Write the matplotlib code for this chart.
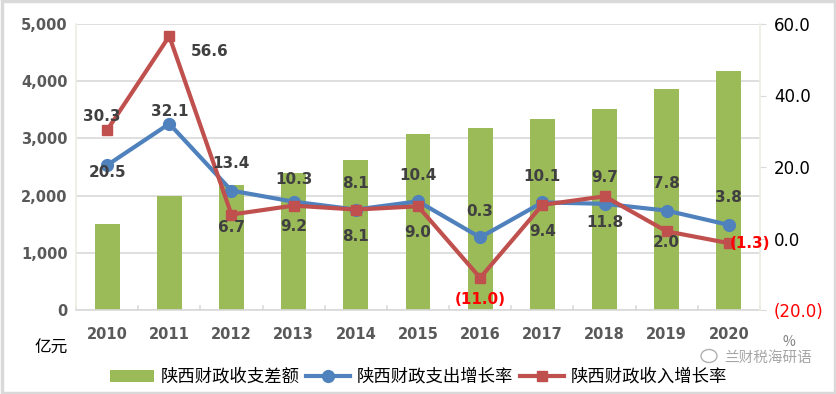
import matplotlib
matplotlib.use("Agg")
import matplotlib.pyplot as plt
from matplotlib.ticker import FuncFormatter
from matplotlib.patches import Rectangle, Ellipse

plt.rcParams['font.family'] = ['Noto Sans CJK SC', 'DejaVu Sans']

years = ['2010', '2011', '2012', '2013', '2014', '2015', '2016', '2017', '2018', '2019', '2020']
gap = [1500, 1995, 2185, 2395, 2620, 3078, 3182, 3338, 3515, 3865, 4178]
exp_growth = [20.5, 32.1, 13.4, 10.3, 8.1, 10.4, 0.3, 10.1, 9.7, 7.8, 3.8]
rev_growth = [30.3, 56.6, 6.7, 9.2, 8.1, 9.0, -11.0, 9.4, 11.8, 2.0, -1.3]

names = ['陕西财政收支差额', '陕西财政支出增长率', '陕西财政收入增长率']

# label placement in pixels (dx right, dy up)
exp_off_px = [(0, -7), (0, 12), (0, 27), (0, 22), (0, 26), (0, 26), (0, 26), (0, 26), (0, 26), (0, 27), (0, 27)]
rev_off_px = [(-5, 14), (40, -15), (0, -13), (0, -21), (0, -27), (0, -26), (0, -22), (0, -27), (0, -26), (0, -11), (21, 0)]

bar_c = '#9BBB59'
blue = '#4F81BD'
red = '#C0504D'
txt = '#404040'

fig = plt.figure(figsize=(8.37, 3.94), dpi=100)
ax = fig.add_axes([76/837, 1-310/394, (760-76)/837, (310-24)/394])
ax2 = ax.twinx()

x = list(range(len(years)))
b = ax.bar(x, gap, width=0.4, color=bar_c, zorder=2, label=names[0])
ax.set_ylim(0, 5000)
ax.set_xlim(-0.5, len(years)-0.5)
ax.set_yticks([0, 1000, 2000, 3000, 4000, 5000])
ax.yaxis.set_major_formatter(FuncFormatter(lambda v, p: f'{int(v):,}'))
ax.grid(axis='y', color='#D9D9D9', linewidth=1.2, zorder=0)
ax.set_axisbelow(True)
ax.set_xticks(x)
ax.set_xticklabels(years)
for lab in ax.get_xticklabels() + ax.get_yticklabels():
    lab.set_fontweight('bold')
    lab.set_color('#595959')
    lab.set_fontsize(10.5)
    lab.set_family(['DejaVu Sans'])
ax.tick_params(axis='x', length=0, pad=12)
ax.tick_params(axis='y', length=0, pad=6)
for s in ['top', 'right']:
    ax.spines[s].set_visible(False)
ax.spines['left'].set_color('#EEECE1')
ax.spines['left'].set_linewidth(1.2)
ax.spines['bottom'].set_color('#D9D9D9')
ax.spines['bottom'].set_linewidth(1.2)
for i in range(len(years)+1):
    ax.plot([i-0.5, i-0.5], [0, 70], color='#D9D9D9', lw=1.2, clip_on=False, zorder=1)

l1, = ax2.plot(x, exp_growth, color=blue, lw=3, marker='o', ms=8.5, zorder=4, label=names[1])
l2, = ax2.plot(x, rev_growth, color=red, lw=3, marker='s', ms=7, zorder=5, label=names[2])
ax2.set_ylim(-20, 60)
ax2.set_yticks([-20, 0, 20, 40, 60])
ax2.yaxis.set_major_formatter(FuncFormatter(lambda v, p: f'({abs(v):.1f})' if v < 0 else f'{v:.1f}'))
ax2.tick_params(axis='y', length=4, color='#D9D9D9', pad=6, labelsize=12)
for s in ['top', 'left', 'bottom']:
    ax2.spines[s].set_visible(False)
ax2.spines['right'].set_color('#EEECE1')
ax2.spines['right'].set_linewidth(1.2)
fig.canvas.draw()
for lab in ax2.get_yticklabels():
    lab.set_family(['DejaVu Sans'])
    lab.set_color('red' if lab.get_text().startswith('(') else 'black')

def fmt(v):
    return f'({abs(v):.1f})' if v < 0 else f'{v:.1f}'

PT = 0.72
for i, v in enumerate(exp_growth):
    dx, dy = exp_off_px[i]
    ax2.annotate(fmt(v), (i, v), xytext=(dx*PT, dy*PT), textcoords='offset points',
                 ha='center', va='center', fontsize=11, fontweight='bold',
                 color=txt, family=['DejaVu Sans'], zorder=6)
for i, v in enumerate(rev_growth):
    dx, dy = rev_off_px[i]
    ax2.annotate(fmt(v), (i, v), xytext=(dx*PT, dy*PT), textcoords='offset points',
                 ha='center', va='center', fontsize=11, fontweight='bold',
                 color='red' if v < 0 else txt, family=['DejaVu Sans'], zorder=6)

fig.text(51/837, 1-348/394, '亿元', ha='center', va='center', fontsize=12, color='black')
fig.text(789/837, 1-342/394, '%', ha='center', va='center', fontsize=10, color='#808080')
fig.text(768/837, 1-358/394, '兰财税海研语', ha='center', va='center', fontsize=10.5, color='#A6A6A6')
fig.patches.append(Ellipse((709/837, 1-356/394), 16/837, 13/394, transform=fig.transFigure,
                           fill=False, edgecolor='#B0B0B0', lw=1))

fig.legend(handles=[b, l1, l2], labels=names, loc='center', bbox_to_anchor=(0.5, 1-377/394),
           ncol=3, frameon=False, fontsize=12.5, handlelength=2.5, columnspacing=0.4,
           handletextpad=0.4)

fig.patches.append(Rectangle((0.002, 0.003), 0.996, 0.994, transform=fig.transFigure,
                             fill=False, edgecolor='#D9D9D9', lw=2.5))
fig.savefig('out.png', dpi=100)
